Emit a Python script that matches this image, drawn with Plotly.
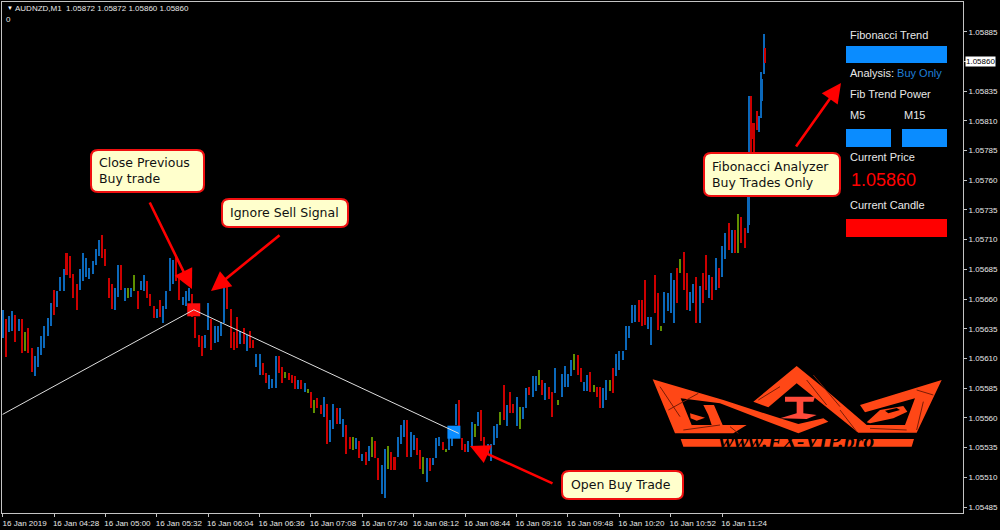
import numpy as np
import plotly.graph_objects as go

# bars: minutes after 03:56, prices in points above 1.05
bar_minute = list(range(0, 464, 2)) + [464, 465, 466, 467, 468, 470, 471, 472, 473, 474, 475]
bar_high = [651, 643, 646, 650, 647, 643, 643, 632, 636, 619,
            612, 620, 629, 637, 644, 657, 668, 667, 679, 685,
            699, 696, 681, 673, 685, 699, 695, 686, 692, 702,
            710, 714, 702, 678, 673, 669, 689, 689, 669, 669,
            669, 680, 667, 675, 680, 675, 664, 654, 652, 659,
            654, 667, 695, 693, 696, 681, 662, 667, 669, 664,
            645, 630, 629, 630, 657, 643, 637, 637, 641, 671,
            671, 652, 632, 645, 633, 636, 630, 633, 626, 614,
            614, 606, 598, 596, 593, 612, 612, 603, 599, 598,
            596, 595, 592, 592, 589, 584, 582, 575, 577, 571,
            578, 572, 558, 572, 568, 568, 559, 554, 544, 544,
            543, 541, 530, 531, 536, 544, 541, 526, 520, 534,
            536, 531, 527, 544, 554, 558, 558, 548, 546, 543,
            533, 527, 526, 526, 526, 543, 544, 540, 534, 547,
            553, 572, 575, 543, 538, 541, 557, 555, 565, 567,
            544, 538, 538, 553, 555, 565, 588, 571, 582, 572,
            578, 569, 569, 585, 586, 595, 595, 600, 592, 589,
            586, 582, 602, 575, 597, 604, 597, 609, 614, 613,
            602, 590, 596, 599, 588, 586, 586, 585, 592, 592,
            602, 614, 616, 616, 637, 637, 655, 655, 659, 659,
            676, 645, 645, 680, 665, 637, 666, 665, 682, 676,
            686, 694, 700, 682, 666, 673, 679, 671, 682, 697,
            680, 679, 695, 686, 705, 716, 724, 718, 718, 732,
            729, 720,
            750, 831, 831, 808, 808, 818, 814, 851, 845, 883, 871]
bar_low = [627, 611, 632, 633, 624, 633, 615, 616, 615, 599,
           595, 603, 613, 619, 629, 637, 647, 653, 667, 667,
           680, 678, 661, 651, 668, 675, 679, 677, 681, 689,
           696, 695, 688, 661, 652, 651, 662, 668, 658, 661,
           662, 667, 652, 668, 667, 661, 654, 644, 644, 645,
           640, 652, 667, 673, 675, 659, 655, 654, 658, 645,
           627, 620, 612, 619, 634, 617, 623, 624, 629, 640,
           652, 619, 617, 619, 622, 622, 616, 619, 619, 603,
           596, 596, 589, 584, 585, 585, 598, 589, 594, 592,
           589, 584, 584, 584, 582, 581, 568, 564, 568, 563,
           561, 538, 540, 551, 555, 555, 544, 530, 534, 533,
           534, 526, 524, 520, 524, 527, 526, 508, 496, 493,
           517, 516, 516, 527, 538, 544, 527, 527, 533, 529,
           517, 513, 506, 515, 520, 526, 536, 533, 531, 533,
           536, 554, 553, 533, 531, 531, 536, 544, 553, 541,
           534, 529, 524, 537, 543, 554, 558, 553, 564, 564,
           553, 551, 559, 568, 579, 578, 583, 588, 579, 575,
           576, 561, 581, 571, 578, 586, 586, 595, 600, 596,
           590, 583, 583, 582, 582, 578, 568, 568, 575, 583,
           581, 595, 600, 609, 617, 627, 640, 641, 641, 637,
           638, 635, 621, 648, 634, 633, 640, 650, 648, 640,
           657, 682, 668, 651, 650, 657, 640, 640, 657, 668,
           661, 659, 668, 669, 679, 694, 701, 699, 699, 699,
           707, 703,
           716, 722, 781, 795, 783, 802, 801, 812, 827, 849, 859]
bar_kind = ("brbbrbrgrr" "bbbbbbrbbb" "rrrrbbbbbb" "brrrrbbrbg" "bgrbbrrrbr"
            "bbbbrrbbbr" "rrrbbrbbbb" "rrrrbrbrrb" "brrbbbrrgr" "rrbrbgrgrr"
            "brbbrbbrrg" "brbrbgrrbb" "grrbbbrbbr" "rgbrbbbrgb" "bbrrrbbgbr"
            "rbbbbgrbrr" "bgbbrbbgrb" "rrbgbbbbgr" "rbbrgrrbbg" "rbbbbbbbrr"
            "rbbrrgbbbb" "rgrrbbrbrr" "brbrbbrbrg" "rr" "bbrrrrbbbbr")
kind_color = {"b": "#0b68ba", "r": "#cc0000", "g": "#5f9000"}

zigzag_minute = [0, 119, 284]
zigzag_price = [1.05563, 1.05651, 1.05547]
signal_minute = [119, 281]
signal_price = [1.05651, 1.05548]
signal_color = ["#ff0d0d", "#0a8cff"]

x_tick_minute = list(range(0, 449, 32))
x_tick_text = ["16 Jan 2019", "16 Jan 04:28", "16 Jan 05:00", "16 Jan 05:32", "16 Jan 06:04",
               "16 Jan 06:36", "16 Jan 07:08", "16 Jan 07:40", "16 Jan 08:12", "16 Jan 08:44",
               "16 Jan 09:16", "16 Jan 09:48", "16 Jan 10:20", "16 Jan 10:52", "16 Jan 11:24"]
y_tick_price = [1.05485, 1.05510, 1.05535, 1.05560, 1.05585, 1.05610, 1.05635, 1.05660, 1.05685,
                1.05710, 1.05735, 1.05760, 1.05785, 1.05810, 1.05835, 1.05860, 1.05885]
current_price = 1.05860

FONT = "Liberation Sans"
CALLOUT_FONT = "DejaVu Sans"
BUY_BLUE = "#0a8cff"
LOGO = "#ff4716"

# plot frame in page pixels
L, T, R, B = 2, 2, 963, 513


def px(x):
    return (x - L) / (R - L)


def py(y):
    return (B - y) / (B - T)


def poly(points):
    return "M " + " L ".join("{:.5f},{:.5f}".format(px(x), py(y)) for x, y in points) + " Z"


def rounded(x0, y0, x1, y1, r):
    p = lambda x, y: "{:.5f},{:.5f}".format(px(x), py(y))
    return ("M " + p(x0 + r, y0) + " L " + p(x1 - r, y0) + " Q " + p(x1, y0) + " " + p(x1, y0 + r) +
            " L " + p(x1, y1 - r) + " Q " + p(x1, y1) + " " + p(x1 - r, y1) +
            " L " + p(x0 + r, y1) + " Q " + p(x0, y1) + " " + p(x0, y1 - r) +
            " L " + p(x0, y0 + r) + " Q " + p(x0, y0) + " " + p(x0 + r, y0) + " Z")


def logo_pts(points):
    return [(640 + x / 3, 350 + y / 3) for x, y in points]


shapes = []


def rect(x0, y0, x1, y1, color):
    shapes.append(dict(type="rect", xref="paper", yref="paper", x0=px(x0), x1=px(x1), y0=py(y1), y1=py(y0),
                       fillcolor=color, line=dict(width=0), layer="above"))


def fill(points, color=LOGO):
    shapes.append(dict(type="path", xref="paper", yref="paper", path=poly(logo_pts(points)),
                       fillcolor=color, line=dict(width=0), layer="above"))


def scratch(x0, y0, x1, y1):
    shapes.append(dict(type="line", xref="paper", yref="paper", x0=px(640 + x0 / 3), x1=px(640 + x1 / 3),
                       y0=py(350 + y0 / 3), y1=py(350 + y1 / 3), line=dict(color="#7a1c06", width=1), layer="above"))


def callout(x0, y0, x1, y1):
    shapes.append(dict(type="path", xref="paper", yref="paper", path=rounded(x0, y0, x1, y1, 7),
                       fillcolor="#ffffcc", line=dict(color="#f01010", width=2), layer="above"))


# panel
rect(846, 46, 947, 63, BUY_BLUE)
rect(846, 129, 891, 147, BUY_BLUE)
rect(902, 129, 947, 147, BUY_BLUE)
rect(846, 219, 947, 237, "#ff0000")

# callouts
callout(91, 150, 204, 192)
callout(222, 199, 348, 227)
callout(562, 471, 683, 499)
callout(704, 153, 840, 196)

# logo
fill([(38, 88), (250, 150), (420, 205), (475, 222), (550, 205), (565, 215), (475, 250), (240, 160),
      (122, 145), (155, 225), (320, 225), (280, 250), (105, 250)])
fill([(470, 48), (540, 105), (680, 225), (795, 225), (825, 145), (675, 187), (660, 165), (905, 90),
      (830, 248), (655, 248), (470, 100), (385, 172), (340, 155)])
fill([(190, 165), (222, 165), (248, 225), (215, 225), (205, 195)])
fill([(150, 190), (195, 203), (170, 212), (152, 205)])
fill([(435, 140), (525, 140), (520, 155), (490, 155), (490, 190), (530, 195), (500, 207), (420, 205),
      (470, 190), (470, 155), (435, 155)], "#ff4a3a")
fill([(680, 217), (720, 180), (790, 168), (802, 185), (760, 205), (690, 220)])
fill([(735, 182), (770, 174), (780, 180), (745, 190)], "#000000")
fill([(122, 267), (822, 267), (815, 290), (130, 290)])

scratch(60, 110, 120, 200)
scratch(85, 180, 175, 130)
scratch(130, 240, 240, 225)
scratch(270, 230, 295, 250)
scratch(355, 150, 420, 110)
scratch(500, 90, 560, 165)
scratch(520, 75, 600, 170)
scratch(600, 180, 650, 245)
scratch(690, 235, 800, 240)
scratch(830, 120, 880, 135)
scratch(850, 155, 830, 240)

annotations = []


def label(x, y, text, size=11, color="#e8e8e8", family=FONT, anchor="left"):
    annotations.append(dict(xref="paper", yref="paper", x=px(x), y=py(y), text=text, showarrow=False,
                            xanchor=anchor, yanchor="middle", align="left", borderpad=0,
                            font=dict(size=size, color=color, family=family)))


def arrow(x0, y0, x1, y1):
    annotations.append(dict(xref="paper", yref="paper", x=px(x1), y=py(y1), ax=x0 - x1, ay=y0 - y1, text="",
                            showarrow=True, arrowhead=2, arrowsize=1.5, arrowwidth=2.6, arrowcolor="#ff0000"))


label(6, 8, "▼", size=6, color="#ffffff")
label(14, 8, "AUDNZD,M1  1.05872 1.05872 1.05860 1.05860", size=8)
label(5, 19, "0", size=8)

label(849, 35, "Fibonacci Trend")
label(849, 73, "Analysis: <span style=\"color:#1f7fd8\">Buy Only</span>")
label(849, 94, "Fib Trend Power")
label(849, 115, "M5")
label(903, 115, "M15")
label(849, 157, "Current Price")
label(850, 180, "1.05860", size=18, color="#ff0000")
label(849, 205, "Current Candle")

label(98, 162, "Close Previous", size=12.5, color="#111111", family=CALLOUT_FONT)
label(98, 178, "Buy trade", size=12.5, color="#111111", family=CALLOUT_FONT)
label(229, 212, "Ignore Sell Signal", size=12.5, color="#111111", family=CALLOUT_FONT)
label(570, 484, "Open Buy Trade", size=12.5, color="#111111", family=CALLOUT_FONT)
label(711, 166, "Fibonacci Analyzer", size=12.5, color="#111111", family=CALLOUT_FONT)
label(711, 182, "Buy Trades Only", size=12.5, color="#111111", family=CALLOUT_FONT)

arrow(149, 201, 192, 289)
arrow(281, 234, 211, 291)
arrow(554, 484, 470, 446)
arrow(795, 148, 841, 83)

label(796, 440, "<b><i>www.FX-VIP.pro</i></b>", size=22, color="#000000", family="Liberation Serif", anchor="center")

# current price tag takes the place of that tick's label
annotations.append(dict(xref="paper", yref="y", x=1, y=current_price, xanchor="left", yanchor="middle", xshift=2,
                        text="{:.5f}".format(current_price), showarrow=False, bgcolor="#ffffff", borderpad=0,
                        font=dict(size=8, color="#000000", family=FONT)))

low = 1.05 + np.array(bar_low) / 100000
high = 1.05 + np.array(bar_high) / 100000

fig = go.Figure()
fig.add_trace(go.Bar(x=bar_minute, y=high - low, base=low, width=1.25,
                     marker=dict(color=[kind_color[k] for k in bar_kind], line=dict(width=0)), showlegend=False))
fig.add_trace(go.Scatter(x=signal_minute, y=signal_price, mode="markers", showlegend=False,
                         marker=dict(symbol="square", size=13, color=signal_color, line=dict(width=0))))
fig.add_trace(go.Scatter(x=zigzag_minute, y=zigzag_price, mode="lines", showlegend=False,
                         line=dict(color="#dedede", width=1)))

axis_style = dict(showgrid=False, zeroline=False, showline=True, mirror=True, linecolor="#c4c4c4", linewidth=1,
                  ticks="outside", ticklen=3, tickcolor="#c4c4c4", tickwidth=1)
fig.update_xaxes(range=[-0.4, 598], tickmode="array", tickvals=x_tick_minute, ticktext=x_tick_text, tickangle=0,
                 ticklabelshift=22, ticklabeloverflow="allow", ticklabelstandoff=-1,
                 tickfont=dict(size=8, color="#e8e8e8", family=FONT), **axis_style)
fig.update_yaxes(range=[1.05480, 1.05910], side="right", tickmode="array", tickvals=y_tick_price,
                 ticktext=["" if v == current_price else "{:.5f}".format(v) for v in y_tick_price],
                 tickfont=dict(size=8, color="#e8e8e8", family=FONT), **axis_style)
fig.update_layout(width=1000, height=530, autosize=False, paper_bgcolor="#000000", plot_bgcolor="#000000",
                  margin=dict(l=L, t=T, r=1000 - R, b=530 - B), shapes=shapes, annotations=annotations,
                  bargap=0, hovermode=False)

# the page's default body margin would push the chart off the window
fig.write_html("out.html", config=dict(displayModeBar=False),
               post_script="document.body.style.margin='0';document.body.style.overflow='hidden';")
